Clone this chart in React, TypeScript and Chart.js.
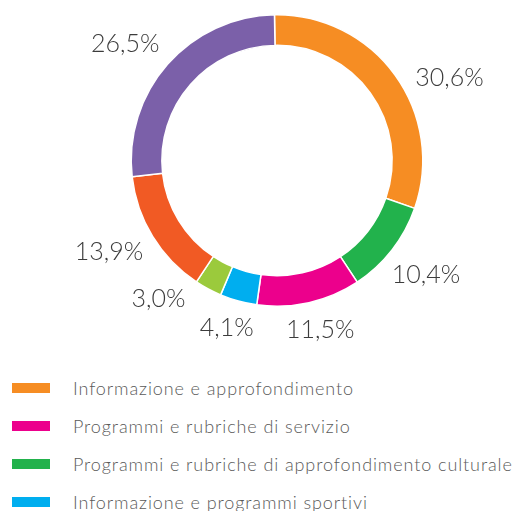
import React, { useEffect, useRef } from "react";
import { Chart, registerables } from "chart.js";

Chart.register(...registerables);

const categories = [
  "Informazione e approfondimento",
  "Programmi e rubriche di approfondimento culturale",
  "Programmi e rubriche di servizio",
  "Informazione e programmi sportivi",
  "Altro 1",
  "Altro 2",
  "Altro 3",
];
const values = [30.6, 10.4, 11.5, 4.1, 3.0, 13.9, 26.5];
const colors = ["#F68D23", "#22B24C", "#EC008C", "#00AEEF", "#9BCA3C", "#F15A24", "#7B60A9"];
const valueLabels = ["30,6%", "10,4%", "11,5%", "4,1%", "3,0%", "13,9%", "26,5%"];
// angular nudge (degrees) for labels that would crowd neighbours
const labelAngleNudge = [7, 3, 0, 0, 10, 0, 0];
const labelGapNudge = [0, 0, 0, 0, 2, 0, 5];

const legendLabels = [
  "Informazione e approfondimento",
  "Programmi e rubriche di servizio",
  "Programmi e rubriche di approfondimento culturale",
  "Informazione e programmi sportivi",
];
const legendColors = ["#F68D23", "#EC008C", "#22B24C", "#00AEEF"];

const FONT = "Lato, 'Open Sans', sans-serif";

const labelPlugin = {
  id: "outerLabels",
  afterDatasetsDraw(chart: any) {
    const ctx = chart.ctx;
    const meta = chart.getDatasetMeta(0);
    ctx.save();
    ctx.font = `300 25px ${FONT}`;
    ctx.fillStyle = "#3c3c3c";
    ctx.textAlign = "center";
    ctx.textBaseline = "middle";
    meta.data.forEach((arc: any, i: number) => {
      const { x, y, startAngle, endAngle, outerRadius } = arc.getProps(
        ["x", "y", "startAngle", "endAngle", "outerRadius"],
        true
      );
      const mid = (startAngle + endAngle) / 2 + (labelAngleNudge[i] * Math.PI) / 180;
      const r = outerRadius + 17 + labelGapNudge[i];
      const ax = x + Math.cos(mid) * r;
      const ay = y + Math.sin(mid) * r;
      const w = ctx.measureText(valueLabels[i]).width;
      const h = 20;
      const cx = ax + Math.cos(mid) * (w / 2);
      const cy = ay + Math.sin(mid) * (h / 2);
      ctx.fillText(valueLabels[i], cx, cy + 1);
    });
    ctx.restore();
  },
};

export default function App() {
  const ref = useRef<HTMLCanvasElement | null>(null);
  useEffect(() => {
    if (!ref.current) return;
    const chart = new Chart(ref.current, {
      type: "doughnut",
      data: {
        labels: categories,
        datasets: [
          {
            data: values,
            backgroundColor: colors,
            borderColor: "#ffffff",
            borderWidth: 1.5,
          },
        ],
      },
      options: {
        responsive: false,
        animation: false,
        devicePixelRatio: 1,
        cutout: "79%",
        rotation: -1,
        layout: { padding: { left: 130, right: 94, top: 14, bottom: 53 } },
        plugins: {
          legend: { display: false },
          tooltip: { enabled: false },
        },
      },
      plugins: [labelPlugin],
    } as any);
    return () => chart.destroy();
  }, []);

  return (
    <div
      style={{
        position: "absolute",
        left: 0,
        top: 0,
        width: 518,
        height: 511,
        overflow: "hidden",
        background: "#ffffff",
      }}
    >
      <canvas ref={ref} width={518} height={360} style={{ position: "absolute", left: 0, top: 0 }} />
      {legendLabels.map((label, i) => (
        <div
          key={label}
          style={{
            position: "absolute",
            left: 0,
            top: 376 + i * 38,
            height: 24,
            display: "flex",
            alignItems: "center",
            whiteSpace: "nowrap",
          }}
        >
          <div style={{ marginLeft: 12, width: 38, height: 10, background: legendColors[i] }} />
          <span
            style={{
              marginLeft: 23,
              fontFamily: FONT,
              fontWeight: 300,
              fontSize: 18,
              letterSpacing: "0.9px",
              color: "#5a5a5a",
            }}
          >
            {label}
          </span>
        </div>
      ))}
    </div>
  );
}
